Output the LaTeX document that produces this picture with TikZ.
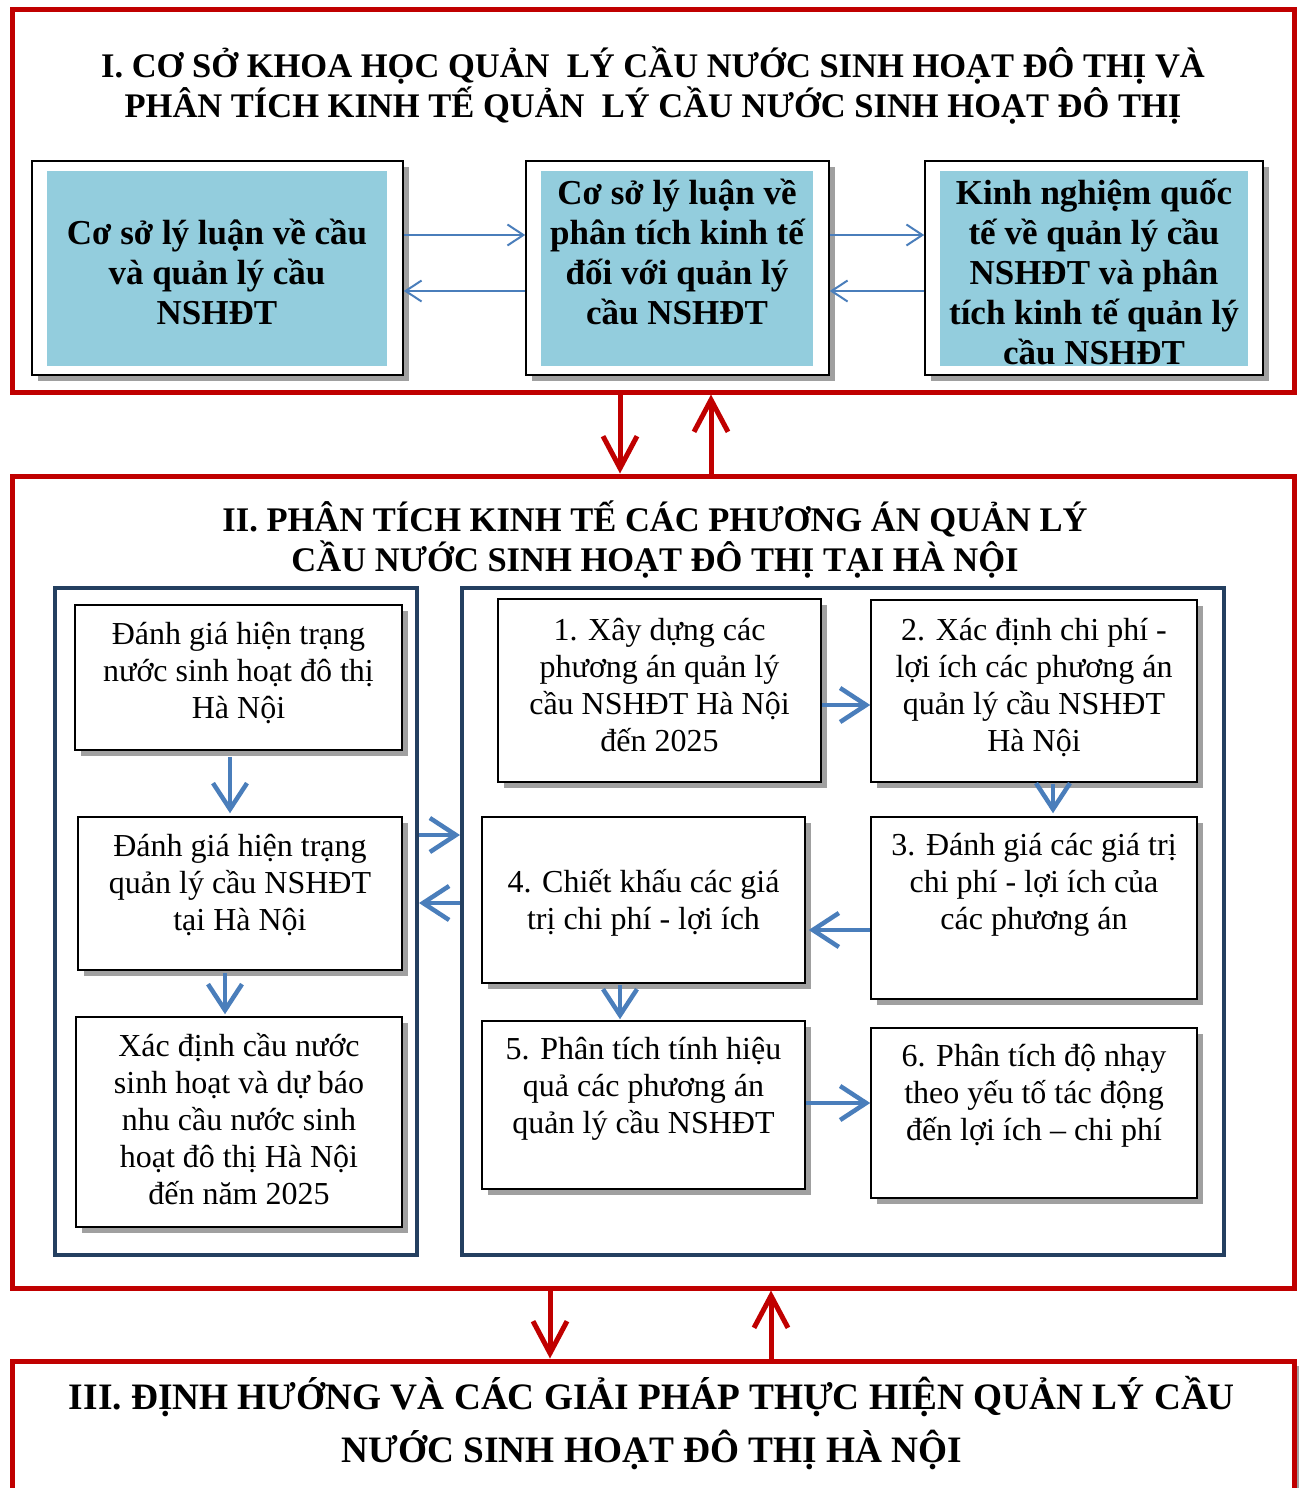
\documentclass[tikz,border=0pt]{standalone}
\usepackage{fontspec}
\setmainfont{Liberation Serif}
\usetikzlibrary{arrows.meta,shadows,calc}
\definecolor{redc}{HTML}{C00000}
\definecolor{navy}{HTML}{243F60}
\definecolor{arrowblue}{HTML}{4A7EBB}
\definecolor{lightblue}{HTML}{93CDDD}
\definecolor{shadowgray}{HTML}{A0A0A0}
\begin{document}
\begin{tikzpicture}[x=1pt,y=-1pt,
  redframe/.style={draw=redc, line width=5pt, inner sep=0pt},
  panel/.style={draw=navy, line width=4pt, inner sep=0pt},
  outerbox/.style={draw=black, line width=1.5pt, fill=white, inner sep=0pt,
    general shadow={fill=shadowgray, shadow xshift=6pt, shadow yshift=-6pt}},
  bluefill/.style={fill=lightblue, inner sep=0pt},
  titletext/.style={font=\fontsize{34.5}{40}\selectfont\bfseries, align=center, inner sep=0pt},
  headtext/.style={font=\fontsize{35}{40}\selectfont\bfseries, align=center, inner sep=0pt},
  bodytext/.style={font=\fontsize{32}{37}\selectfont, align=center, inner sep=0pt},
  redarrow/.style={draw=redc, line width=5pt, -{Straight Barb[length=32pt,width=34pt]}},
  bluearrow/.style={draw=arrowblue, line width=4.5pt, -{Straight Barb[length=26pt,width=34pt]}},
  thinarrow/.style={draw=arrowblue, line width=2pt, -{Straight Barb[length=16pt,width=21pt]}}
]
\useasboundingbox (0,0) rectangle (1307,1488);
\clip (0,0) rectangle (1307,1488);

% ---------- Section frames ----------
\node[redframe, minimum width=1282pt, minimum height=382pt] (S1) at (653,201) {};
\node[redframe, minimum width=1282pt, minimum height=812pt] (S2) at (653,882) {};
\node[redframe, fill=white, minimum width=1282pt, minimum height=179pt,
  general shadow={fill=shadowgray, shadow xshift=5pt, shadow yshift=-5pt}] (S3) at (653,1450.5) {};

% ---------- Section I ----------
\node[titletext] (T1) at (653,86) {I. CƠ SỞ KHOA HỌC QUẢN~ LÝ CẦU NƯỚC SINH HOẠT ĐÔ THỊ VÀ\\PHÂN TÍCH KINH TẾ QUẢN~ LÝ CẦU NƯỚC SINH HOẠT ĐÔ THỊ};

\node[outerbox, minimum width=371pt, minimum height=214pt] (A) at (217.5,268) {};
\node[bluefill, minimum width=340pt, minimum height=195pt] (Ab) at (217,268.5) {};
\node[headtext] (At) at (217,272) {Cơ sở lý luận về cầu\\và quản lý cầu\\NSHĐT};

\node[outerbox, minimum width=303pt, minimum height=214pt] (B) at (677.5,268) {};
\node[bluefill, minimum width=272pt, minimum height=195pt] (Bb) at (677,268.5) {};
\node[headtext] (Bt) at (677,252) {Cơ sở lý luận về\\phân tích kinh tế\\đối với quản lý\\cầu NSHĐT};

\node[outerbox, minimum width=338pt, minimum height=214pt] (C) at (1094,268) {};
\node[bluefill, minimum width=308pt, minimum height=195pt] (Cb) at (1094,268.5) {};
\node[headtext] (Ct) at (1094,272) {Kinh nghiệm quốc\\tế về quản lý cầu\\NSHĐT và phân\\tích kinh tế quản lý\\cầu NSHĐT};

\draw[thinarrow] (A.east |- 0,235) -- (B.west |- 0,235);
\draw[thinarrow] (B.west |- 0,291) -- (A.east |- 0,291);
\draw[thinarrow] (B.east |- 0,235) -- (C.west |- 0,235);
\draw[thinarrow] (C.west |- 0,291) -- (B.east |- 0,291);

% ---------- Section II ----------
\node[titletext] (T2) at (655,540) {II. PHÂN TÍCH KINH TẾ CÁC PHƯƠNG ÁN QUẢN LÝ\\CẦU NƯỚC SINH HOẠT ĐÔ THỊ TẠI HÀ NỘI};

\node[panel, minimum width=362pt, minimum height=667pt] (PL) at (236,921.5) {};
\node[panel, minimum width=762pt, minimum height=667pt] (PR) at (843,921.5) {};

\node[outerbox, minimum width=327pt, minimum height=145pt] (L1) at (238.5,677.5) {};
\node[bodytext] at (238.5,673) {Đánh giá hiện trạng\\nước sinh hoạt đô thị\\Hà Nội};
\node[outerbox, minimum width=324pt, minimum height=153pt] (L2) at (240,893.5) {};
\node[bodytext] at (240,885) {Đánh giá hiện trạng\\quản lý cầu NSHĐT\\tại Hà Nội};
\node[outerbox, minimum width=326pt, minimum height=210pt] (L3) at (239,1122) {};
\node[bodytext] at (239,1119) {Xác định cầu nước\\sinh hoạt và dự báo\\nhu cầu nước sinh\\hoạt đô thị Hà Nội\\đến năm 2025};

\node[outerbox, minimum width=323pt, minimum height=183pt] (R1) at (659.5,690.5) {};
\node[bodytext] at (659.5,685) {1. Xây dựng các\\phương án quản lý\\cầu NSHĐT Hà Nội\\đến 2025};
\node[outerbox, minimum width=326pt, minimum height=182pt] (R2) at (1034,691) {};
\node[bodytext] at (1034,688) {2. Xác định chi phí -\\lợi ích các phương án\\quản lý cầu NSHĐT\\Hà Nội};
\node[outerbox, minimum width=326pt, minimum height=182pt] (R3) at (1034,908) {};
\node[bodytext] at (1034,885) {3. Đánh giá các giá trị\\chi phí - lợi ích của\\các phương án};
\node[outerbox, minimum width=323pt, minimum height=166pt] (R4) at (643.5,900) {};
\node[bodytext] at (643.5,903) {4. Chiết khấu các giá\\trị chi phí - lợi ích};
\node[outerbox, minimum width=323pt, minimum height=168pt] (R5) at (643.5,1105) {};
\node[bodytext] at (643.5,1089) {5. Phân tích tính hiệu\\quả các phương án\\quản lý cầu NSHĐT};
\node[outerbox, minimum width=326pt, minimum height=170pt] (R6) at (1034,1113) {};
\node[bodytext] at (1034,1096) {6. Phân tích độ nhạy\\theo yếu tố tác động\\đến lợi ích -- chi phí};

\draw[bluearrow, shorten <=6pt, shorten >=3pt] (L1.south -| 230,0) -- (L2.north -| 230,0);
\draw[bluearrow, shorten <=2pt, shorten >=2pt] (L2.south -| 225,0) -- (L3.north -| 225,0);
\draw[bluearrow] (PL.east |- 0,835) -- (PR.west |- 0,835);
\draw[bluearrow] (PR.west |- 0,903) -- (PL.east |- 0,903);
\draw[bluearrow] (R1.east |- 0,705) -- (R2.west |- 0,705);
\draw[bluearrow, shorten <=1pt, shorten >=3pt] (R2.south -| 1053,0) -- (R3.north -| 1053,0);
\draw[bluearrow, shorten >=3pt] (R3.west |- 0,930) -- (R4.east |- 0,930);
\draw[bluearrow, shorten <=1pt, shorten >=1pt] (R4.south -| 620,0) -- (R5.north -| 620,0);
\draw[bluearrow] (R5.east |- 0,1103) -- (R6.west |- 0,1103);

% ---------- Section III ----------
\node[titletext, font=\fontsize{37.3}{53}\selectfont\bfseries] (T3) at (652,1423) {III. ĐỊNH HƯỚNG VÀ CÁC GIẢI PHÁP THỰC HIỆN QUẢN LÝ CẦU\\NƯỚC SINH HOẠT ĐÔ THỊ HÀ NỘI};

% ---------- Red connectors between sections ----------
\draw[redarrow] (S1.south -| 620,0) -- (S2.north -| 620,0);
\draw[redarrow] (S2.north -| 711,0) -- (S1.south -| 711,0);
\draw[redarrow] (S2.south -| 550,0) -- (S3.north -| 550,0);
\draw[redarrow] (S3.north -| 771,0) -- (S2.south -| 771,0);
\end{tikzpicture}
\end{document}
